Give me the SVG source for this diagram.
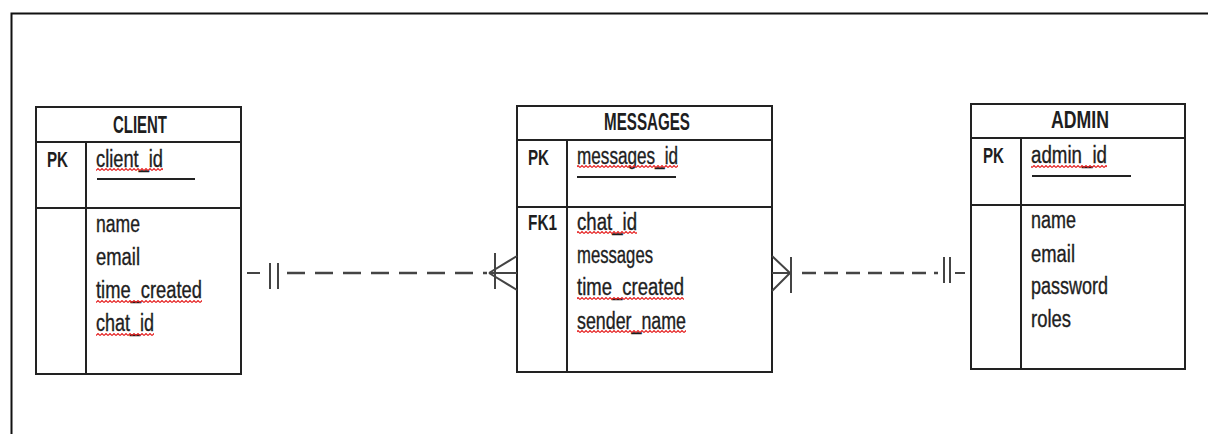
<svg xmlns="http://www.w3.org/2000/svg" width="1208" height="434" viewBox="0 0 1208 434">
  <style>
    .box { fill: #ffffff; stroke: #222222; stroke-width: 2; }
    .div { stroke: #222222; stroke-width: 2; fill: none; }
    .ul { stroke: #222222; stroke-width: 1.8; fill: none; }
    .title { font-family: "Liberation Sans", Arial, sans-serif; font-size: 23px; font-weight: bold; fill: #1e1e1e; }
    .txt { font-family: "Liberation Sans", Arial, sans-serif; font-size: 23px; fill: #1e1e1e; stroke: #1e1e1e; stroke-width: 0.35; }
    .key { font-family: "Liberation Sans", Arial, sans-serif; font-size: 22px; font-weight: bold; fill: #1e1e1e; }
    .rel { stroke: #444444; stroke-width: 2; fill: none; }
    .dash { stroke: #444444; stroke-width: 2.4; fill: none; }
  </style>
  <defs>
    <!-- red spell-check wave -->
    <pattern id="squig" x="0" y="0" width="4" height="3" patternUnits="userSpaceOnUse">
      <path d="M0,2.5 L2,0.5 L4,2.5" stroke="#e52020" stroke-width="1.1" fill="none"/>
    </pattern>
  </defs>

  <rect width="1208" height="434" fill="#ffffff"/>
  <!-- outer frame -->
  <path d="M11.5,434 V13.5 H1208" stroke="#111111" stroke-width="2" fill="none"/>

  <!-- CLIENT entity -->
  <g id="client">
    <rect class="box" x="36" y="107" width="205" height="267"/>
    <path class="div" d="M36,142 H241 M36,208 H241 M86,142 V374"/>
    <text class="title" x="113" y="133" textLength="54" lengthAdjust="spacingAndGlyphs">CLIENT</text>
    <text class="key" x="47" y="167" textLength="21" lengthAdjust="spacingAndGlyphs">PK</text>
    <text class="txt" x="96" y="167" textLength="67" lengthAdjust="spacingAndGlyphs">client_id</text>
    <rect x="96" y="168" width="67" height="3" fill="url(#squig)"/>
    <path class="ul" d="M97,179 H195"/>
    <text class="txt" x="96" y="232" textLength="44" lengthAdjust="spacingAndGlyphs">name</text>
    <text class="txt" x="96" y="265" textLength="44" lengthAdjust="spacingAndGlyphs">email</text>
    <text class="txt" x="96" y="298" textLength="106" lengthAdjust="spacingAndGlyphs">time_created</text>
    <rect x="96" y="300" width="106" height="3" fill="url(#squig)"/>
    <text class="txt" x="96" y="331" textLength="58" lengthAdjust="spacingAndGlyphs">chat_id</text>
    <rect x="96" y="333" width="58" height="3" fill="url(#squig)"/>
  </g>

  <!-- MESSAGES entity -->
  <g id="messages">
    <rect class="box" x="517" y="106" width="255" height="266"/>
    <path class="div" d="M517,140 H772 M517,207 H772 M567,140 V372"/>
    <text class="title" x="604" y="130" textLength="86" lengthAdjust="spacingAndGlyphs">MESSAGES</text>
    <text class="key" x="528" y="165" textLength="21" lengthAdjust="spacingAndGlyphs">PK</text>
    <text class="txt" x="577" y="164" textLength="101" lengthAdjust="spacingAndGlyphs">messages_id</text>
    <rect x="577" y="165" width="101" height="3" fill="url(#squig)"/>
    <path class="ul" d="M577,177 H676"/>
    <text class="key" x="528" y="230" textLength="29" lengthAdjust="spacingAndGlyphs">FK1</text>
    <text class="txt" x="577" y="230" textLength="60" lengthAdjust="spacingAndGlyphs">chat_id</text>
    <rect x="577" y="231" width="60" height="3" fill="url(#squig)"/>
    <text class="txt" x="577" y="263" textLength="76" lengthAdjust="spacingAndGlyphs">messages</text>
    <text class="txt" x="577" y="295" textLength="107" lengthAdjust="spacingAndGlyphs">time_created</text>
    <rect x="577" y="297" width="107" height="3" fill="url(#squig)"/>
    <text class="txt" x="577" y="329" textLength="109" lengthAdjust="spacingAndGlyphs">sender_name</text>
    <rect x="577" y="330" width="109" height="3" fill="url(#squig)"/>
  </g>

  <!-- ADMIN entity -->
  <g id="admin">
    <rect class="box" x="971" y="104" width="214" height="265"/>
    <path class="div" d="M971,138 H1185 M971,205 H1185 M1021,138 V369"/>
    <text class="title" x="1051" y="128" textLength="58" lengthAdjust="spacingAndGlyphs">ADMIN</text>
    <text class="key" x="983" y="163" textLength="21" lengthAdjust="spacingAndGlyphs">PK</text>
    <text class="txt" x="1031" y="163" textLength="76" lengthAdjust="spacingAndGlyphs">admin_id</text>
    <rect x="1031" y="165" width="76" height="3" fill="url(#squig)"/>
    <path class="ul" d="M1032,176 H1131"/>
    <text class="txt" x="1031" y="228" textLength="45" lengthAdjust="spacingAndGlyphs">name</text>
    <text class="txt" x="1031" y="262" textLength="44" lengthAdjust="spacingAndGlyphs">email</text>
    <text class="txt" x="1031" y="294" textLength="77" lengthAdjust="spacingAndGlyphs">password</text>
    <text class="txt" x="1031" y="327" textLength="40" lengthAdjust="spacingAndGlyphs">roles</text>
  </g>

  <!-- relationships -->
  <g id="connectors">
    <!-- CLIENT (one) to MESSAGES (many) -->
    <g id="client-messages">
      <path class="rel" d="M247,273 H260 M270,263 V289 M278,263 V289"/>
      <path class="dash" d="M287,273 H487" stroke-dasharray="18 10"/>
      <path class="rel" d="M489,273 H517 M495,253 V289 M489,273 L517,256 M489,273 L517,290"/>
    </g>
    <!-- MESSAGES (many) to ADMIN (one) -->
    <g id="messages-admin">
      <path class="rel" d="M772,273 H790 M772,256 L790,273 L772,291 M791,257 V293"/>
      <path class="dash" d="M802,273 H938" stroke-dasharray="14 8"/>
      <path class="rel" d="M944,257 V283 M950,257 V283 M955,273 H965"/>
    </g>
  </g>
</svg>
